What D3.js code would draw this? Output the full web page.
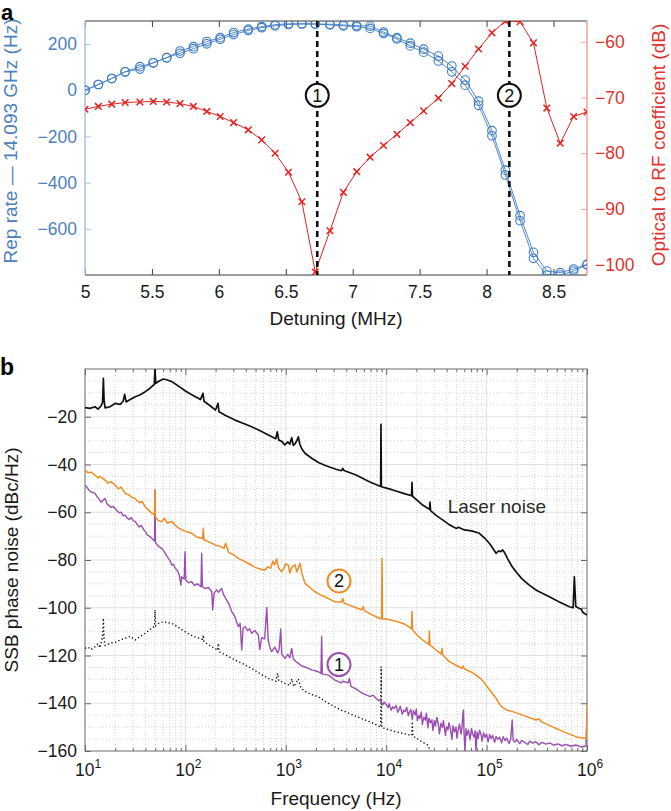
<!DOCTYPE html>
<html><head><meta charset="utf-8">
<script src="https://cdn.jsdelivr.net/npm/d3@7"></script>
<style>body{margin:0;background:#fff} svg text{font-family:"Liberation Sans",Arial,Helvetica,sans-serif}</style>
</head><body><svg id="c" width="671" height="811"></svg>
<script>
// ---------------- Panel a data ----------------
const detuning = [5.00,5.10,5.20,5.30,5.41,5.51,5.61,5.71,5.81,5.91,6.01,6.11,6.22,6.32,6.42,6.52,6.62,6.72,6.83,6.93,7.03,7.13,7.23,7.33,7.43,7.53,7.64,7.74,7.84,7.94,8.04,8.14,8.25,8.35,8.45,8.55,8.65,8.75];
const repRateA = [0,25,51,80,102,119,141,170,189,211,228,250,265,276,284,288,288,287,286,283,280,278,252,228,204,178,148,105,44,-47,-175,-346,-543,-702,-783,-790,-774,-754];
const repRateB = [0,25,51,80,92,119,141,160,180,201,221,241,259,271,279,285,287,287,283,279,275,268,246,222,192,165,127,80,22,-65,-197,-367,-565,-728,-800,-800,-783,-756];
const rfCoef = [-72.1,-71.6,-71.2,-70.9,-70.8,-70.7,-70.8,-71.1,-71.6,-72.5,-73.4,-74.5,-75.8,-77.6,-80.0,-83.4,-88.7,-101.3,-93.9,-87.0,-83.3,-80.7,-78.6,-76.6,-74.5,-72.4,-70.1,-67.5,-64.4,-61.3,-58.4,-56.3,-56.4,-60.2,-71.9,-78.2,-73.4,-72.6];
const markerLines = [{x:6.735, label:"1"}, {x:8.17, label:"2"}];
const aXTicks = [5,5.5,6,6.5,7,7.5,8,8.5];
const aLeftTicks = [-600,-400,-200,0,200];
const aRightTicks = [-100,-90,-80,-70,-60];

// ---------------- Panel b data: [log10(f/Hz), dBc/Hz] ----------------
const laserNoise = [[1.00,-16.2],[1.05,-16.5],[1.10,-15.8],[1.13,-16.8],[1.16,-15.5],[1.175,-14],[1.183,-3.9],[1.19,-13],[1.20,-16.3],[1.25,-15.8],[1.30,-14.4],[1.35,-14.8],[1.38,-13.5],[1.395,-10.6],[1.41,-13.8],[1.45,-12.8],[1.50,-11.6],[1.55,-10.8],[1.60,-9.5],[1.64,-8.3],[1.664,-7.4],[1.69,-6.5],[1.697,0],[1.705,-6],[1.74,-5],[1.78,-4.2],[1.82,-4.6],[1.864,-5.3],[1.90,-6.3],[1.95,-7.7],[2.00,-9.2],[2.05,-10.5],[2.10,-11.6],[2.15,-12.8],[2.175,-10.2],[2.185,-13.5],[2.25,-15.5],[2.30,-17.2],[2.325,-14.4],[2.335,-17.9],[2.40,-19.5],[2.494,-21.4],[2.58,-22.8],[2.66,-24.2],[2.74,-25.8],[2.826,-27.6],[2.90,-29.2],[2.915,-26.3],[2.93,-29.8],[2.96,-30.3],[2.99,-31.8],[3.02,-30.5],[3.04,-31.5],[3.059,-28.8],[3.075,-32],[3.09,-31.5],[3.11,-30],[3.125,-28.4],[3.14,-31.5],[3.16,-33.5],[3.191,-35.3],[3.258,-37.4],[3.33,-39.3],[3.40,-40.5],[3.50,-42.0],[3.555,-42.6],[3.567,-41.6],[3.58,-42.5],[3.70,-44.4],[3.832,-47.2],[3.945,-49.2],[3.948,-23.2],[3.952,-49.3],[4.03,-50.2],[4.098,-51.1],[4.18,-52.2],[4.252,-53.1],[4.257,-47.5],[4.262,-53.3],[4.31,-55],[4.363,-57],[4.432,-58.8],[4.436,-55.8],[4.442,-59.3],[4.50,-61.4],[4.563,-63.2],[4.62,-65],[4.662,-66],[4.70,-66.8],[4.72,-66.3],[4.778,-67.4],[4.85,-67.8],[4.928,-68.8],[4.98,-70.8],[5.027,-73],[5.06,-75],[5.094,-77.2],[5.12,-76.2],[5.14,-76.5],[5.16,-75.8],[5.18,-77],[5.21,-79.5],[5.25,-82.5],[5.293,-84.9],[5.35,-87.8],[5.425,-90.5],[5.50,-92.8],[5.625,-95.4],[5.72,-97.5],[5.824,-99.6],[5.862,-100],[5.874,-87],[5.888,-99.5],[5.924,-100.3],[5.94,-100.5],[5.96,-102],[6.00,-103]];

const trace2 = [[1.00,-42.3],[1.03,-43.5],[1.06,-43.2],[1.10,-44.4],[1.13,-45.6],[1.15,-45],[1.20,-46.5],[1.23,-47.8],[1.26,-47.2],[1.30,-48.6],[1.33,-50.2],[1.36,-49.5],[1.40,-52.1],[1.44,-52.8],[1.47,-53.8],[1.50,-54.2],[1.54,-56],[1.57,-55.5],[1.60,-57.7],[1.63,-59],[1.664,-60.4],[1.692,-61],[1.697,-50.7],[1.702,-62],[1.73,-63.5],[1.764,-63.9],[1.79,-62.5],[1.82,-64.5],[1.864,-63.9],[1.90,-65.5],[1.93,-66.5],[1.963,-67.4],[2.00,-68],[2.063,-68.8],[2.12,-70.5],[2.172,-71],[2.178,-66.7],[2.184,-71.6],[2.24,-72.5],[2.295,-73.7],[2.35,-74.3],[2.385,-75.1],[2.40,-73.0],[2.43,-76.8],[2.48,-77.8],[2.527,-79.3],[2.594,-80.7],[2.65,-82],[2.70,-83.2],[2.76,-84],[2.793,-84.2],[2.82,-82.8],[2.85,-83.5],[2.87,-80.5],[2.89,-82],[2.909,-79.6],[2.93,-83.5],[2.959,-84.9],[2.98,-83.5],[3.00,-81.6],[3.025,-82.1],[3.04,-85.5],[3.06,-83],[3.092,-82],[3.11,-85],[3.141,-81.4],[3.16,-85.5],[3.191,-89.8],[3.24,-91.5],[3.29,-93.3],[3.34,-94.5],[3.39,-95.4],[3.44,-96.5],[3.49,-97.5],[3.555,-97.6],[3.567,-96.1],[3.58,-98],[3.633,-98.9],[3.70,-100],[3.755,-100.9],[3.77,-99.5],[3.78,-101.2],[3.85,-102.8],[3.932,-104.4],[3.953,-104.6],[3.958,-79.3],[3.963,-104.6],[3.998,-104.7],[4.08,-105.5],[4.164,-106.5],[4.22,-107.8],[4.252,-108.8],[4.257,-101.6],[4.263,-109.3],[4.31,-111.5],[4.363,-113.5],[4.425,-115.4],[4.43,-109.7],[4.435,-115.6],[4.496,-117.7],[4.55,-119.4],[4.556,-117],[4.562,-119.7],[4.629,-122.6],[4.70,-124.2],[4.755,-125.4],[4.765,-124.4],[4.78,-125.6],[4.85,-127],[4.894,-128.2],[4.95,-130],[4.994,-132.4],[5.05,-135.5],[5.094,-137.9],[5.13,-140.5],[5.16,-141.8],[5.20,-142.8],[5.26,-143.5],[5.38,-145.3],[5.492,-147],[5.52,-146.5],[5.55,-147.8],[5.691,-150.5],[5.80,-152.5],[5.89,-154],[5.95,-154.6],[5.995,-154.7],[6.00,-140.7]];

const trace1 = [[1.00,-48.6],[1.02,-49.5],[1.04,-50.8],[1.06,-51.5],[1.08,-51.8],[1.10,-52.1],[1.12,-53.5],[1.14,-54.5],[1.16,-55.8],[1.18,-55.0],[1.20,-54.2],[1.22,-56.5],[1.24,-57.2],[1.26,-58],[1.28,-57.5],[1.30,-58.4],[1.32,-59.5],[1.34,-60.2],[1.36,-60],[1.38,-61.5],[1.40,-61.2],[1.42,-62.5],[1.44,-63],[1.46,-62.2],[1.48,-63.5],[1.50,-63.9],[1.52,-65],[1.54,-66.2],[1.56,-65.5],[1.58,-67],[1.60,-68.1],[1.62,-69.5],[1.64,-70],[1.664,-70.9],[1.692,-72],[1.697,-50.7],[1.702,-72.5],[1.72,-73.8],[1.74,-74.5],[1.764,-75.1],[1.79,-76.5],[1.81,-78],[1.83,-79.3],[1.85,-80.5],[1.864,-82.1],[1.88,-81.8],[1.90,-83.5],[1.92,-84.5],[1.94,-86.3],[1.955,-90.5],[1.963,-87],[1.988,-88],[1.996,-76.5],[2.004,-88.5],[2.03,-89.5],[2.063,-89.1],[2.09,-90.6],[2.12,-90],[2.155,-91.2],[2.162,-77.2],[2.169,-91.2],[2.20,-92],[2.23,-91.5],[2.262,-93.3],[2.272,-100.9],[2.285,-94],[2.31,-92.5],[2.33,-93.5],[2.361,-91.9],[2.38,-94.5],[2.411,-96.8],[2.435,-98.5],[2.461,-101.6],[2.49,-103.5],[2.527,-107.9],[2.545,-106.5],[2.561,-117.7],[2.575,-108.5],[2.594,-107.9],[2.62,-109.5],[2.64,-108.8],[2.66,-110.7],[2.69,-109.5],[2.727,-111.5],[2.74,-117.5],[2.76,-112.5],[2.79,-113],[2.81,-99.9],[2.825,-113.5],[2.845,-117],[2.86,-118.4],[2.89,-116.5],[2.92,-119],[2.935,-117],[2.949,-108.9],[2.96,-119.5],[2.992,-121.2],[3.02,-119.5],[3.04,-121],[3.059,-117],[3.075,-121.5],[3.10,-122.5],[3.125,-123.3],[3.16,-124.4],[3.19,-124.8],[3.224,-125.4],[3.26,-126],[3.30,-126.5],[3.324,-126.8],[3.35,-127.5],[3.357,-112.1],[3.364,-127.8],[3.40,-128],[3.424,-128.2],[3.45,-129],[3.49,-130.3],[3.52,-130.8],[3.55,-131.5],[3.567,-130.8],[3.62,-131.5],[3.633,-129.6],[3.65,-133],[3.70,-134],[3.74,-135.2],[3.766,-135.9],[3.80,-136.5],[3.84,-137.2],[3.87,-136.6],[3.898,-137.9],[3.93,-139],[3.94,-138.5],[3.965,-140.7],[3.98,-139.5],[4.00,-140.5],[4.02,-141.8],[4.03,-140.2],[4.05,-142.9],[4.065,-141.5],[4.08,-142.2],[4.10,-140.9],[4.115,-143.8],[4.13,-142.4],[4.14,-141.2],[4.16,-144.6],[4.175,-142.9],[4.19,-143.5],[4.205,-141.7],[4.22,-145.2],[4.23,-143.9],[4.245,-142.6],[4.26,-146.8],[4.27,-143.1],[4.29,-144.9],[4.30,-142.4],[4.31,-147.2],[4.325,-145.1],[4.335,-146.4],[4.35,-143.6],[4.36,-148.9],[4.375,-145.8],[4.39,-147.1],[4.40,-144.2],[4.415,-150.3],[4.425,-146.3],[4.44,-148.2],[4.455,-146.9],[4.465,-151.4],[4.48,-147.2],[4.49,-149.6],[4.505,-145.9],[4.52,-149.1],[4.53,-152.8],[4.545,-148.4],[4.56,-150.2],[4.57,-147.3],[4.59,-153.5],[4.60,-149.8],[4.615,-151.2],[4.625,-148.1],[4.64,-150.9],[4.655,-155.2],[4.665,-149.4],[4.68,-152.1],[4.695,-149.9],[4.705,-154.6],[4.72,-150.6],[4.73,-148.7],[4.745,-152.9],[4.755,-150.3],[4.765,-144],[4.77,-142.8],[4.775,-151.8],[4.785,-160],[4.795,-150.7],[4.805,-153.4],[4.82,-151.2],[4.835,-155.3],[4.85,-150.6],[4.86,-152.9],[4.875,-154.1],[4.885,-151.6],[4.894,-160],[4.905,-152.1],[4.915,-154.7],[4.93,-151.3],[4.945,-153.2],[4.955,-155.9],[4.97,-152.4],[4.985,-154.3],[5.00,-152.9],[5.015,-156.2],[5.03,-153.1],[5.045,-154.8],[5.06,-153.5],[5.08,-156.4],[5.095,-153.9],[5.11,-155.1],[5.13,-154.2],[5.15,-156.6],[5.165,-154.0],[5.185,-155.7],[5.20,-154.6],[5.225,-156.9],[5.24,-154.9],[5.255,-147],[5.265,-155.5],[5.28,-156.3],[5.30,-155.2],[5.33,-156.9],[5.35,-155.6],[5.38,-156.4],[5.41,-157.3],[5.43,-155.9],[5.46,-156.7],[5.49,-156.1],[5.52,-157.4],[5.55,-156.4],[5.59,-157.1],[5.63,-156.6],[5.67,-157.6],[5.71,-157.0],[5.75,-157.8],[5.79,-157.2],[5.84,-158.0],[5.89,-157.5],[5.94,-158.3],[5.99,-157.9],[6.00,-143.5]];

const noiseFloor = [[1.00,-117],[1.03,-116.5],[1.06,-117.5],[1.10,-116.3],[1.13,-115],[1.15,-116.8],[1.175,-112],[1.183,-104.4],[1.19,-113],[1.20,-115.8],[1.216,-115.6],[1.25,-114.8],[1.30,-114.5],[1.35,-113.5],[1.40,-112.8],[1.45,-112],[1.50,-113.5],[1.55,-112],[1.60,-110.7],[1.664,-108.6],[1.692,-107.8],[1.697,-100.9],[1.705,-107.5],[1.74,-106.3],[1.78,-105.8],[1.82,-106.3],[1.864,-106.5],[1.93,-108.2],[1.996,-110],[2.08,-112],[2.172,-113.2],[2.178,-111.4],[2.185,-114.2],[2.25,-116],[2.322,-117.8],[2.328,-114.9],[2.335,-118.4],[2.41,-120],[2.494,-121.9],[2.58,-123.6],[2.66,-125.4],[2.74,-127.5],[2.826,-129.6],[2.90,-130.8],[2.919,-127.5],[2.93,-130.5],[2.96,-131],[2.992,-131.7],[3.04,-132.5],[3.059,-129.8],[3.08,-133],[3.125,-129.8],[3.15,-133.5],[3.191,-135.1],[3.26,-136.4],[3.324,-137.2],[3.40,-139.5],[3.49,-141.5],[3.533,-142.5],[3.70,-145.5],[3.85,-148],[3.945,-150],[3.95,-124.6],[3.955,-150.2],[4.10,-152],[4.255,-153.5],[4.26,-147.7],[4.265,-153.7],[4.35,-156],[4.413,-157.5],[4.446,-160.5]];

const bYTicks = [-160,-140,-120,-100,-80,-60,-40,-20];
const bXTicks = [1e1,1e2,1e3,1e4,1e5,1e6];
const circledB = [{label:"2", L:3.53, db:-88.8, color:"#f28a22"}, {label:"1", L:3.53, db:-123.8, color:"#9a4fb0"}];
const laserLabel = {text:"Laser noise", L:4.613, db:-60.3};

// ---------------- drawing ----------------
const svg = d3.select('#c');
const BLUE = '#3f7cc6', BLUE_T = '#4d80bd', BLUE_AX = '#a8c3e4';
const RED = '#e4231f', RED_T = '#e2332d', RED_AX = '#f2a29c';
const ORANGE = '#f28a22', PURPLE = '#9a4fb0';
const TICKFS = '17.5px', LABFS = '19px';
const defs = svg.append('defs');

function clip(id, P){
  defs.append('clipPath').attr('id', id).append('rect')
    .attr('x', P.l).attr('y', P.t).attr('width', P.r - P.l).attr('height', P.b - P.t);
}
function styleAxis(g, textColor, tickColor){
  g.select('.domain').remove();
  g.selectAll('.tick line').attr('stroke', tickColor).attr('stroke-width', 1);
  g.selectAll('.tick text').attr('fill', textColor).style('font-size', TICKFS);
}

// ===== Panel a =====
const A = {l:85, r:587, t:21, b:275};
clip('clipA', A);
const xa = d3.scaleLinear().domain([5, 8.75]).range([A.l, A.r]);
const yL = d3.scaleLinear().domain([-800, 300]).range([A.b, A.t]);
const yR = d3.scaleLinear().domain([-101.83, -56.28]).range([A.b, A.t]);

svg.append('g').attr('transform', `translate(0,${A.b})`)
  .call(d3.axisBottom(xa).tickValues(aXTicks).tickSize(-6).tickSizeOuter(0).tickPadding(11).tickFormat(d3.format('~g')))
  .call(g => styleAxis(g, '#1a1a1a', '#444'));
svg.append('g').attr('transform', `translate(0,${A.t})`)
  .call(d3.axisTop(xa).tickValues(aXTicks).tickSize(-6).tickSizeOuter(0).tickFormat(''))
  .call(g => styleAxis(g, '#1a1a1a', '#444'));
svg.append('g').attr('transform', `translate(${A.l},0)`)
  .call(d3.axisLeft(yL).tickValues(aLeftTicks).tickSize(-6).tickSizeOuter(0).tickPadding(8))
  .call(g => styleAxis(g, BLUE_T, BLUE_AX));
svg.append('g').attr('transform', `translate(${A.r},0)`)
  .call(d3.axisRight(yR).tickValues(aRightTicks).tickSize(-6).tickSizeOuter(0).tickPadding(8))
  .call(g => styleAxis(g, RED_T, RED_AX));
// frame
svg.append('line').attr('x1', A.l).attr('x2', A.r).attr('y1', A.b).attr('y2', A.b).attr('stroke', '#3a3a3a');
svg.append('line').attr('x1', A.l).attr('x2', A.r).attr('y1', A.t).attr('y2', A.t).attr('stroke', '#3a3a3a');
svg.append('line').attr('x1', A.l).attr('x2', A.l).attr('y1', A.t).attr('y2', A.b).attr('stroke', BLUE_AX).attr('stroke-width', 1.5);
svg.append('line').attr('x1', A.r).attr('x2', A.r).attr('y1', A.t).attr('y2', A.b).attr('stroke', RED_AX).attr('stroke-width', 1.5);

const gA = svg.append('g').attr('clip-path', 'url(#clipA)');
[repRateA, repRateB].forEach(series => {
  const pts = detuning.map((x, i) => [x, series[i]]);
  gA.append('path').datum(pts)
    .attr('d', d3.line().x(d => xa(d[0])).y(d => yL(d[1])))
    .attr('fill', 'none').attr('stroke', BLUE).attr('stroke-width', 0.9);
  gA.append('g').selectAll('circle').data(pts).join('circle')
    .attr('cx', d => xa(d[0])).attr('cy', d => yL(d[1])).attr('r', 4.3)
    .attr('fill', 'none').attr('stroke', BLUE).attr('stroke-width', 1.1);
});
const rfPts = detuning.map((x, i) => [x, rfCoef[i]]);
gA.append('path').datum(rfPts)
  .attr('d', d3.line().x(d => xa(d[0])).y(d => yR(d[1])))
  .attr('fill', 'none').attr('stroke', RED).attr('stroke-width', 1);
gA.append('g').selectAll('path').data(rfPts).join('path')
  .attr('d', d => { const x = xa(d[0]), y = yR(d[1]), s = 3.3; return `M${x-s},${y-s}L${x+s},${y+s}M${x-s},${y+s}L${x+s},${y-s}`; })
  .attr('stroke', RED).attr('stroke-width', 1.5);

// dashed marker lines + circled numbers
markerLines.forEach(m => {
  svg.append('line').attr('x1', xa(m.x)).attr('x2', xa(m.x)).attr('y1', A.t).attr('y2', A.b)
    .attr('stroke', '#111').attr('stroke-width', 2.6).attr('stroke-dasharray', '6,4');
  const g = svg.append('g').attr('transform', `translate(${xa(m.x)},${yL(-22)})`);
  g.append('circle').attr('r', 11.5).attr('fill', '#fff').attr('stroke', '#111').attr('stroke-width', 2);
  g.append('text').attr('text-anchor', 'middle').attr('dy', '0.36em').style('font-size', '18px').attr('fill', '#111').text(m.label);
});

// labels a
svg.append('text').attr('x', (A.l + A.r) / 2).attr('y', 325).attr('text-anchor', 'middle')
  .style('font-size', LABFS).attr('fill', '#1a1a1a').text('Detuning (MHz)');
svg.append('text').attr('transform', `translate(17,141) rotate(-90)`).attr('text-anchor', 'middle')
  .style('font-size', LABFS).attr('fill', BLUE_T).text('Rep rate — 14.093 GHz (Hz)');
svg.append('text').attr('transform', `translate(665,145) rotate(-90)`).attr('text-anchor', 'middle')
  .style('font-size', LABFS).attr('fill', RED_T).text('Optical to RF coefficient (dB)');
svg.append('text').attr('x', 1).attr('y', 20).style('font-size', '22px').style('font-weight', 'bold').attr('fill', '#000').text('a');

// ===== Panel b =====
const B = {l:85, r:587, t:369, b:751};
clip('clipB', B);
const xb = d3.scaleLog().domain([10, 1e6]).range([B.l, B.r]);
const yb = d3.scaleLinear().domain([-160, 0]).range([B.b, B.t]);

const allX = xb.ticks();
const minorX = allX.filter(v => !bXTicks.some(t => Math.abs(t - v) / v < 1e-9));
const minorY = d3.range(-155, 0, 5).filter(v => v % 20 !== 0);
const majorYGrid = d3.range(-140, 0, 20);

const grid = svg.append('g');
grid.selectAll('.mx').data(minorX).join('line')
  .attr('x1', d => xb(d)).attr('x2', d => xb(d)).attr('y1', B.t).attr('y2', B.b)
  .attr('stroke', '#c9c9c9').attr('stroke-width', 0.8).attr('stroke-dasharray', '1,2');
grid.selectAll('.my').data(minorY).join('line')
  .attr('x1', B.l).attr('x2', B.r).attr('y1', d => yb(d)).attr('y2', d => yb(d))
  .attr('stroke', '#c9c9c9').attr('stroke-width', 0.8).attr('stroke-dasharray', '1,2');
grid.selectAll('.Mx').data(bXTicks.slice(1, -1)).join('line')
  .attr('x1', d => xb(d)).attr('x2', d => xb(d)).attr('y1', B.t).attr('y2', B.b)
  .attr('stroke', '#e2e2e2').attr('stroke-width', 1);
grid.selectAll('.My').data(majorYGrid).join('line')
  .attr('x1', B.l).attr('x2', B.r).attr('y1', d => yb(d)).attr('y2', d => yb(d))
  .attr('stroke', '#e2e2e2').attr('stroke-width', 1);

// axes b
const axCol = '#6a6a6a';
svg.append('g').attr('transform', `translate(0,${B.b})`)
  .call(d3.axisBottom(xb).tickValues(bXTicks).tickSize(-6).tickSizeOuter(0).tickFormat(''))
  .call(g => styleAxis(g, '#1a1a1a', axCol));
svg.append('g').attr('transform', `translate(0,${B.b})`)
  .call(d3.axisBottom(xb).tickValues(minorX).tickSize(-3).tickSizeOuter(0).tickFormat(''))
  .call(g => styleAxis(g, '#1a1a1a', axCol));
svg.append('g').attr('transform', `translate(0,${B.t})`)
  .call(d3.axisTop(xb).tickValues(bXTicks).tickSize(-6).tickSizeOuter(0).tickFormat(''))
  .call(g => styleAxis(g, '#1a1a1a', axCol));
svg.append('g').attr('transform', `translate(0,${B.t})`)
  .call(d3.axisTop(xb).tickValues(minorX).tickSize(-3).tickSizeOuter(0).tickFormat(''))
  .call(g => styleAxis(g, '#1a1a1a', axCol));
svg.append('g').attr('transform', `translate(${B.l},0)`)
  .call(d3.axisLeft(yb).tickValues(bYTicks).tickSize(-6).tickSizeOuter(0).tickPadding(8))
  .call(g => styleAxis(g, '#1a1a1a', axCol));
svg.append('g').attr('transform', `translate(${B.r},0)`)
  .call(d3.axisRight(yb).tickValues(bYTicks).tickSize(-6).tickSizeOuter(0).tickFormat(''))
  .call(g => styleAxis(g, '#1a1a1a', axCol));
svg.append('rect').attr('x', B.l).attr('y', B.t).attr('width', B.r - B.l).attr('height', B.b - B.t)
  .attr('fill', 'none').attr('stroke', axCol).attr('stroke-width', 1);

// x tick labels with superscripts
bXTicks.forEach(v => {
  const t = svg.append('text').attr('x', xb(v) + 3).attr('y', 776).attr('text-anchor', 'middle')
    .style('font-size', TICKFS).attr('fill', '#1a1a1a');
  t.append('tspan').text('10');
  t.append('tspan').attr('dy', -8).style('font-size', '12px').text(String(Math.round(Math.log10(v))));
});

// curves
const gB = svg.append('g').attr('clip-path', 'url(#clipB)');
const lineB = d3.line().x(d => xb(Math.pow(10, d[0]))).y(d => yb(d[1]));
gB.append('path').datum(noiseFloor).attr('d', lineB).attr('fill', 'none')
  .attr('stroke', '#111').attr('stroke-width', 1.4).attr('stroke-dasharray', '1.3,2.4');
gB.append('path').datum(trace1).attr('d', lineB).attr('fill', 'none')
  .attr('stroke', PURPLE).attr('stroke-width', 1.4).attr('stroke-linejoin', 'round');
gB.append('path').datum(trace2).attr('d', lineB).attr('fill', 'none')
  .attr('stroke', ORANGE).attr('stroke-width', 1.5).attr('stroke-linejoin', 'round');
gB.append('path').datum(laserNoise).attr('d', lineB).attr('fill', 'none')
  .attr('stroke', '#111').attr('stroke-width', 1.7).attr('stroke-linejoin', 'round');

// annotations
circledB.forEach(c => {
  const g = svg.append('g').attr('transform', `translate(${xb(Math.pow(10, c.L))},${yb(c.db)})`);
  g.append('circle').attr('r', 11.5).attr('fill', '#fff').attr('stroke', c.color).attr('stroke-width', 2);
  g.append('text').attr('text-anchor', 'middle').attr('dy', '0.36em').style('font-size', '18px').attr('fill', '#111').text(c.label);
});
svg.append('text').attr('x', xb(Math.pow(10, laserLabel.L))).attr('y', yb(laserLabel.db))
  .style('font-size', LABFS).attr('fill', '#2a2a2a').text(laserLabel.text);

svg.append('text').attr('x', (B.l + B.r) / 2).attr('y', 805).attr('text-anchor', 'middle')
  .style('font-size', LABFS).attr('fill', '#1a1a1a').text('Frequency (Hz)');
svg.append('text').attr('transform', `translate(18,${(B.t + B.b) / 2}) rotate(-90)`).attr('text-anchor', 'middle')
  .style('font-size', LABFS).attr('fill', '#1a1a1a').text('SSB phase noise (dBc/Hz)');
svg.append('text').attr('x', 0).attr('y', 375).style('font-size', '23px').style('font-weight', 'bold').attr('fill', '#000').text('b');
</script></body></html>
